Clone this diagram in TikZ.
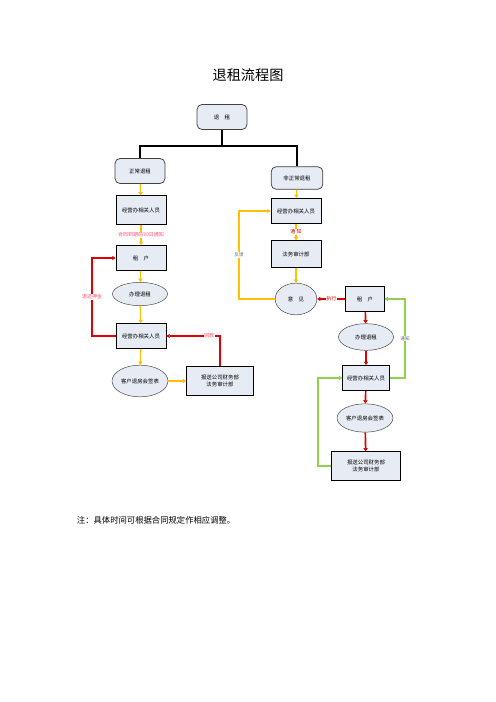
\documentclass[tikz,border=0pt]{standalone}
\usepackage{fontspec}
\setmainfont{Liberation Serif}
\newfontfamily\cjk{Noto Sans CJK SC}
\usetikzlibrary{shapes.geometric,arrows.meta}
\definecolor{boxfill}{HTML}{E6EBF4}
\definecolor{ylw}{HTML}{FFC000}
\definecolor{rd}{HTML}{E00000}
\definecolor{grn}{HTML}{92D050}
\definecolor{lbl}{HTML}{FF4F6E}

\begin{document}
\begin{tikzpicture}[x=1.2pt, y=-1.2pt,
  main/.style = {draw=black, line width=0.9pt, fill=boxfill, align=center, inner sep=1pt,
                 minimum width=60pt, minimum height=30pt, font=\cjk\fontsize{6.5}{8}\selectfont},
  rbox/.style = {main, draw=black!75, rounded corners=6pt},
  oval/.style = {main, ellipse, draw=black!70, line width=0.6pt},
  tip/.style = {-{Triangle[length=4pt,width=5pt]}},
  yl/.style = {draw=ylw, line width=1.5pt, tip},
  rl/.style = {draw=rd, line width=2pt, tip},
  gl/.style = {draw=grn, line width=1.8pt, tip},
  lab/.style = {fill=white, inner sep=0.5pt, text=lbl, font=\cjk\fontsize{6}{7}\selectfont},
  glab/.style = {lab, text=black!60, font=\cjk\fontsize{5.5}{7}\selectfont}]
\useasboundingbox (0,0) rectangle (496,702);

\node[font=\cjk\fontsize{17}{20}\selectfont] (title) at (248,75) {退租流程图};

% tree
\node[rbox] (top) at (222,117) {退\quad 租};
\node[rbox] (zc) at (140,171) {正常退租};
\node[rbox, minimum width=62pt, minimum height=27pt] (fzc) at (297,178) {非正常退租};
\coordinate (j) at (222,146);
\draw[line width=1.3pt] (top) -- (j) -| (zc);
\draw[line width=1.3pt] (j) -| (fzc);

% left column
\node[main, minimum height=34pt] (l1) at (141,210) {经营办相关人员};
\node[main] (l2) at (141,258) {租\quad 户};
\node[oval, minimum width=66pt, minimum height=28pt] (l3) at (140,294) {办理退租};
\node[main] (l4) at (141,336) {经营办相关人员};
\node[oval, minimum width=65pt, minimum height=38pt] (l5) at (140,381) {客户退房会签表};
\node[main, minimum width=80pt, minimum height=35pt] (l6) at (220,381) {报送公司财务部\\法务审计部};
\coordinate (c1) at (92,336);

\draw[yl] (zc) -- (l1);
\draw[yl] (l1) -- node[lab] {合同到期前30日通知} (l2);
\draw[yl] (l2) -- (l3);
\draw[yl] (l3) -- (l4);
\draw[yl] (l4) -- (l5);
\draw[yl] (l5) -- (l6);
\draw[rl] (l4) -- (c1) |- node[lab, pos=0.25] {退还押金} (l2);
\draw[rl] (l6.north) |- node[lab, pos=0.6] {回款} (l4);

% right column
\node[main] (r1) at (296,211) {经营办相关人员};
\node[main, minimum height=32pt] (r2) at (296,254) {法务审计部};
\node[oval, minimum width=50pt, minimum height=38pt] (r3) at (296,299) {意\quad 见};
\node[main, minimum width=46pt] (r4) at (365,299) {租\quad 户};
\node[oval, minimum width=66pt, minimum height=32pt] (r5) at (366,337) {办理退租};
\node[main, minimum width=56pt] (r6) at (366,378) {经营办相关人员};
\node[oval, minimum width=62pt, minimum height=34pt] (r7) at (365,418) {客户退房会签表};
\node[main, minimum width=82pt, minimum height=34pt] (r8) at (366,466) {报送公司财务部\\法务审计部};
\coordinate (fb) at (239,299);
\coordinate (g1) at (405,378);
\coordinate (g2) at (318,466);

\draw[yl] (fzc) -- (r1);
\draw[yl] (r1) -- node[lab, text=rd] {通\ 知} (r2);
\draw[yl] (r2) -- (r3);
\draw[yl] (r3) -- (fb) |- node[glab, pos=0.25] {反馈} (r1);
\draw[rl] (r4) -- node[lab, text=rd] {执行} (r3);
\draw[rl] (r4) -- (r5);
\draw[rl] (r5) -- (r6);
\draw[rl] (r6) -- (r7);
\draw[rl] (r7) -- (r8);
\draw[gl] (r6) -- (g1) |- node[glab, pos=0.25] {通知} (r4);
\draw[gl] (r8) -- (g2) |- (r6);

\node[anchor=west, font=\cjk\fontsize{10}{12}\selectfont] (note) at (74,520) {注：具体时间可根据合同规定作相应调整。};
\end{tikzpicture}
\end{document}
